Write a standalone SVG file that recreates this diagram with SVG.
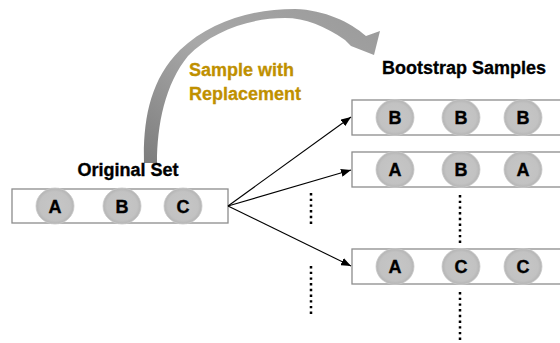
<svg xmlns="http://www.w3.org/2000/svg" width="560" height="343" viewBox="0 0 560 343">
<style>
.box{fill:#fff;stroke:#8c8c8c;stroke-width:1.3}
.ball{fill:url(#ballG);stroke:#c9c9c9;stroke-width:0.8}
.lt{font-family:"Liberation Sans",Arial,sans-serif;font-weight:bold;font-size:18px;fill:#000;stroke:#000;stroke-width:0.35;text-anchor:middle}
.title{font-family:"Liberation Sans",Arial,sans-serif;font-weight:bold;font-size:18px;fill:#000;stroke:#000;stroke-width:0.3}
.gold{font-family:"Liberation Sans",Arial,sans-serif;font-weight:bold;font-size:18px;fill:#BF9000;stroke:#BF9000;stroke-width:0.3}
.dots{stroke:#000;stroke-width:2.5;stroke-dasharray:2.4 3.3;fill:none}
.conn{stroke:#000;stroke-width:1.1;fill:none;marker-end:url(#ah)}
</style>
<defs>
<radialGradient id="ballG" cx="50%" cy="50%" r="50%">
<stop offset="0" stop-color="#c6c6c6"/>
<stop offset="0.8" stop-color="#c2c2c2"/>
<stop offset="1" stop-color="#b4b4b4"/>
</radialGradient>
<linearGradient id="arcG" x1="0" y1="1" x2="1" y2="0">
<stop offset="0" stop-color="#7d7d7d"/>
<stop offset="0.5" stop-color="#a8a8a8"/>
<stop offset="1" stop-color="#9a9a9a"/>
</linearGradient>
<marker id="ah" viewBox="0 0 10 8" refX="10" refY="4" markerWidth="10" markerHeight="8" markerUnits="userSpaceOnUse" orient="auto">
<path d="M0,0 L10,4 L0,8 Z" fill="#000"/>
</marker>
</defs>

<g id="sample-arrow">
<path d="M144,163 C143,120 150,80 180,50 C210,22 250,9 295,9 C325,10 350,22 366,36 L380,31 L374,55 L351,46 L345,40 C325,26 305,18 285,18 C250,18 212,31 188,56 C165,84 157,125 157,163 Z" fill="url(#arcG)"/>
</g>

<g id="label-sample">
<text class="gold" x="189" y="76">Sample with</text>
<text class="gold" x="189" y="100">Replacement</text>
</g>

<g id="original-set">
<text class="lt" x="128" y="176">Original Set</text>
<rect class="box" x="12" y="189" width="216" height="34"/>
<ellipse class="ball" cx="55" cy="206" rx="19" ry="18"/>
<ellipse class="ball" cx="122" cy="206" rx="19" ry="18"/>
<ellipse class="ball" cx="183" cy="206" rx="19" ry="18"/>
<text class="lt" x="55" y="213">A</text>
<text class="lt" x="122" y="213">B</text>
<text class="lt" x="183" y="213">C</text>
</g>

<g id="bootstrap-title">
<text class="title" x="382" y="74">Bootstrap Samples</text>
</g>

<g id="sample-1">
<rect class="box" x="352" y="100" width="220" height="35"/>
<ellipse class="ball" cx="395" cy="117.5" rx="19" ry="18"/>
<ellipse class="ball" cx="461" cy="117.5" rx="19" ry="18"/>
<ellipse class="ball" cx="523" cy="117.5" rx="19" ry="18"/>
<text class="lt" x="395" y="124">B</text>
<text class="lt" x="461" y="124">B</text>
<text class="lt" x="523" y="124">B</text>
</g>

<g id="sample-2">
<rect class="box" x="352" y="152" width="220" height="35"/>
<ellipse class="ball" cx="395" cy="169.5" rx="19" ry="18"/>
<ellipse class="ball" cx="461" cy="169.5" rx="19" ry="18"/>
<ellipse class="ball" cx="523" cy="169.5" rx="19" ry="18"/>
<text class="lt" x="395" y="176">A</text>
<text class="lt" x="461" y="176">B</text>
<text class="lt" x="523" y="176">A</text>
</g>

<g id="sample-3">
<rect class="box" x="352" y="249" width="220" height="35"/>
<ellipse class="ball" cx="395" cy="266.5" rx="19" ry="18"/>
<ellipse class="ball" cx="461" cy="266.5" rx="19" ry="18"/>
<ellipse class="ball" cx="523" cy="266.5" rx="19" ry="18"/>
<text class="lt" x="395" y="273">A</text>
<text class="lt" x="461" y="273">C</text>
<text class="lt" x="523" y="273">C</text>
</g>

<g id="ellipsis-dots">
<line class="dots" x1="311" y1="193" x2="311" y2="224"/>
<line class="dots" x1="311" y1="266" x2="311" y2="316"/>
<line class="dots" x1="460" y1="195" x2="460" y2="245"/>
<line class="dots" x1="460" y1="292" x2="460" y2="342"/>
</g>

<g id="connectors">
<line class="conn" x1="228" y1="206" x2="351" y2="117"/>
<line class="conn" x1="228" y1="206" x2="351" y2="170"/>
<line class="conn" x1="228" y1="206" x2="351" y2="266"/>
</g>
</svg>
